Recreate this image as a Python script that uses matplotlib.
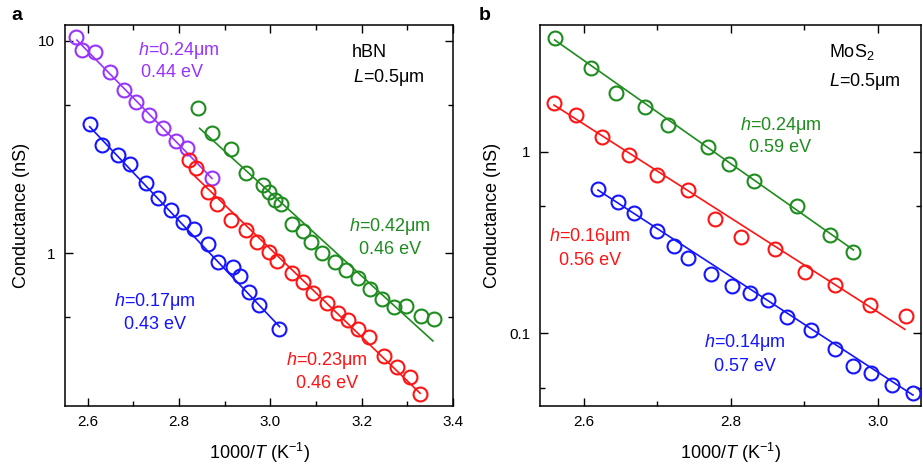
import numpy as np
import matplotlib
matplotlib.use("Agg")
import matplotlib.pyplot as plt
from matplotlib.ticker import FixedLocator, NullFormatter, FixedFormatter

plt.rcParams['font.family'] = ['Liberation Sans', 'DejaVu Sans']
plt.rcParams['mathtext.fontset'] = 'custom'
plt.rcParams['mathtext.rm'] = 'Liberation Sans'
plt.rcParams['mathtext.it'] = 'Liberation Sans:italic'
plt.rcParams['mathtext.bf'] = 'Liberation Sans:bold'

# ---------------- Panel a (hBN) ----------------
a_purple_x = [2.574, 2.587, 2.616, 2.649, 2.680, 2.705, 2.734, 2.765, 2.793, 2.818, 2.872]
a_purple_y = [10.36, 9.03, 8.81, 7.14, 5.86, 5.16, 4.47, 3.87, 3.38, 3.12, 2.25]
a_purple_fit_x = [2.576, 2.872]
a_purple_fit_y = [10.06, 2.25]

a_blue_x = [2.604, 2.631, 2.667, 2.692, 2.727, 2.754, 2.783, 2.809, 2.832, 2.863,
            2.885, 2.917, 2.933, 2.953, 2.976, 3.018]
a_blue_y = [4.05, 3.23, 2.90, 2.63, 2.13, 1.83, 1.60, 1.41, 1.30, 1.106,
            0.913, 0.865, 0.782, 0.660, 0.571, 0.439]
a_blue_fit_x = [2.604, 3.020]
a_blue_fit_y = [3.94, 0.452]

a_green_x = [2.842, 2.871, 2.914, 2.946, 2.983, 2.997, 3.009, 3.024, 3.048, 3.071,
             3.089, 3.114, 3.142, 3.166, 3.191, 3.218, 3.245, 3.271, 3.297, 3.329, 3.358]
a_green_y = [4.81, 3.67, 3.08, 2.38, 2.10, 1.95, 1.78, 1.71, 1.38, 1.27,
             1.13, 1.00, 0.913, 0.835, 0.763, 0.677, 0.608, 0.561, 0.565, 0.507, 0.490]
a_green_fit_x = [2.845, 3.356]
a_green_fit_y = [3.87, 0.387]

a_red_x = [2.821, 2.837, 2.864, 2.882, 2.914, 2.946, 2.970, 2.997, 3.014, 3.047,
           3.071, 3.094, 3.124, 3.147, 3.171, 3.192, 3.217, 3.249, 3.278, 3.306, 3.328]
a_red_y = [2.746, 2.51, 1.932, 1.705, 1.429, 1.294, 1.130, 1.009, 0.920, 0.812,
           0.735, 0.654, 0.587, 0.522, 0.486, 0.441, 0.405, 0.329, 0.293, 0.261, 0.218]
a_red_fit_x = [2.828, 3.328]
a_red_fit_y = [2.377, 0.2197]

# ---------------- Panel b (MoS2) ----------------
b_green_x = [2.560, 2.610, 2.643, 2.683, 2.714, 2.769, 2.798, 2.831, 2.890, 2.935, 2.967]
b_green_y = [4.21, 2.90, 2.10, 1.77, 1.40, 1.06, 0.853, 0.692, 0.503, 0.348, 0.282]
b_green_fit_x = [2.560, 2.967]
b_green_fit_y = [4.12, 0.288]

b_red_x = [2.559, 2.589, 2.625, 2.661, 2.699, 2.741, 2.779, 2.814, 2.860, 2.901,
           2.942, 2.989, 3.038]
b_red_y = [1.847, 1.592, 1.20, 0.959, 0.744, 0.616, 0.426, 0.339, 0.290, 0.2186,
           0.1847, 0.1433, 0.1246]
b_red_fit_x = [2.559, 3.037]
b_red_fit_y = [1.807, 0.1053]

b_blue_x = [2.619, 2.646, 2.668, 2.700, 2.722, 2.742, 2.773, 2.801, 2.826, 2.850,
            2.876, 2.909, 2.942, 2.966, 2.991, 3.020, 3.048]
b_blue_y = [0.621, 0.531, 0.458, 0.366, 0.303, 0.259, 0.2115, 0.183, 0.166, 0.1527,
            0.1227, 0.1044, 0.0821, 0.0662, 0.0603, 0.0520, 0.0468]
b_blue_fit_x = [2.619, 3.048]
b_blue_fit_y = [0.615, 0.0458]

C_PURPLE = '#9933ff'
C_BLUE = '#1414ff'
C_GREEN = '#1e8c1e'
C_RED = '#ff1414'

fig = plt.figure(figsize=(9.23, 4.70), dpi=100)
axA = fig.add_axes([65/923, 1-405.7/470, 388/923, 380.7/470])
axB = fig.add_axes([540/923, 1-405.7/470, 381/923, 380.7/470])

def series(ax, x, y, fx, fy, c):
    ax.plot(fx, fy, '-', color=c, lw=1.2, zorder=2)
    ax.plot(x, y, 'o', mfc='none', mec=c, mew=1.5, ms=10, zorder=3)

series(axA, a_purple_x, a_purple_y, a_purple_fit_x, a_purple_fit_y, C_PURPLE)
series(axA, a_blue_x, a_blue_y, a_blue_fit_x, a_blue_fit_y, C_BLUE)
series(axA, a_red_x, a_red_y, a_red_fit_x, a_red_fit_y, C_RED)
series(axA, a_green_x, a_green_y, a_green_fit_x, a_green_fit_y, C_GREEN)

series(axB, b_green_x, b_green_y, b_green_fit_x, b_green_fit_y, C_GREEN)
series(axB, b_red_x, b_red_y, b_red_fit_x, b_red_fit_y, C_RED)
series(axB, b_blue_x, b_blue_y, b_blue_fit_x, b_blue_fit_y, C_BLUE)

a_xticks = [2.6, 2.8, 3.0, 3.2, 3.4]
a_xticklabels = ['2.6', '2.8', '3.0', '3.2', '3.4']
a_xminor = [2.7, 2.9, 3.1, 3.3]
a_yticks = [1, 10]
a_yticklabels = ['1', '10']
a_yminor = [0.5, 5]

b_xticks = [2.6, 2.8, 3.0]
b_xticklabels = ['2.6', '2.8', '3.0']
b_xminor = [2.7, 2.9]
b_yticks = [0.1, 1]
b_yticklabels = ['0.1', '1']
b_yminor = [0.05, 0.5]

def style(ax, xlim, ylim, xt, xtl, xm, yt, ytl, ym):
    ax.set_yscale('log')
    ax.set_xlim(*xlim)
    ax.set_ylim(*ylim)
    ax.xaxis.set_major_locator(FixedLocator(xt))
    ax.xaxis.set_major_formatter(FixedFormatter(xtl))
    ax.xaxis.set_minor_locator(FixedLocator(xm))
    ax.xaxis.set_minor_formatter(NullFormatter())
    ax.yaxis.set_major_locator(FixedLocator(yt))
    ax.yaxis.set_major_formatter(FixedFormatter(ytl))
    ax.yaxis.set_minor_locator(FixedLocator(ym))
    ax.yaxis.set_minor_formatter(NullFormatter())
    ax.tick_params(which='both', direction='in', top=True, right=True, width=1.0)
    ax.tick_params(which='major', length=6, labelsize=11, pad=7)
    ax.tick_params(which='minor', length=3.5)
    for s in ax.spines.values():
        s.set_linewidth(1.1)
    ax.set_xlabel('1000/$\\mathit{T}$ (K$^{-1}$)', fontsize=13, labelpad=8)
    ax.set_ylabel('Conductance (nS)', fontsize=13, labelpad=6)

style(axA, (2.55, 3.4), (0.192, 11.85), a_xticks, a_xticklabels, a_xminor,
      a_yticks, a_yticklabels, a_yminor)
style(axB, (2.54, 3.059), (0.04, 4.98), b_xticks, b_xticklabels, b_xminor,
      b_yticks, b_yticklabels, b_yminor)

fs = 13
def t(ax, x, y, s, c, ha='center'):
    ax.text(x, y, s, color=c, fontsize=fs, ha=ha, va='center', transform=ax.transAxes)

t(axA, 0.2925, 0.934, '$\\mathit{h}$=0.24μm', C_PURPLE)
t(axA, 0.2745, 0.874, '0.44 eV', C_PURPLE)
t(axA, 0.7397, 0.9265, 'hBN', 'black', ha='left')
t(axA, 0.742, 0.8634, '$\\mathit{L}$=0.5μm', 'black', ha='left')
t(axA, 0.8376, 0.472, '$\\mathit{h}$=0.42μm', C_GREEN)
t(axA, 0.839, 0.4116, '0.46 eV', C_GREEN)
t(axA, 0.232, 0.2732, '$\\mathit{h}$=0.17μm', C_BLUE)
t(axA, 0.2332, 0.212, '0.43 eV', C_BLUE)
t(axA, 0.674, 0.1182, '$\\mathit{h}$=0.23μm', C_RED)
t(axA, 0.6765, 0.0596, '0.46 eV', C_RED)

t(axB, 0.7585, 0.93, 'MoS$_2$', 'black', ha='left')
t(axB, 0.7585, 0.851, '$\\mathit{L}$=0.5μm', 'black', ha='left')
t(axB, 0.631, 0.7347, '$\\mathit{h}$=0.24μm', C_GREEN)
t(axB, 0.631, 0.677, '0.59 eV', C_GREEN)
t(axB, 0.131, 0.444, '$\\mathit{h}$=0.16μm', C_RED)
t(axB, 0.1325, 0.381, '0.56 eV', C_RED)
t(axB, 0.537, 0.1647, '$\\mathit{h}$=0.14μm', C_BLUE)
t(axB, 0.538, 0.1024, '0.57 eV', C_BLUE)

fig.text(16.7/923, 1-15/470, 'a', fontsize=14, fontweight='bold', ha='center', va='center')
fig.text(485/923, 1-15/470, 'b', fontsize=14, fontweight='bold', ha='center', va='center')

fig.savefig('out.png', dpi=100)
